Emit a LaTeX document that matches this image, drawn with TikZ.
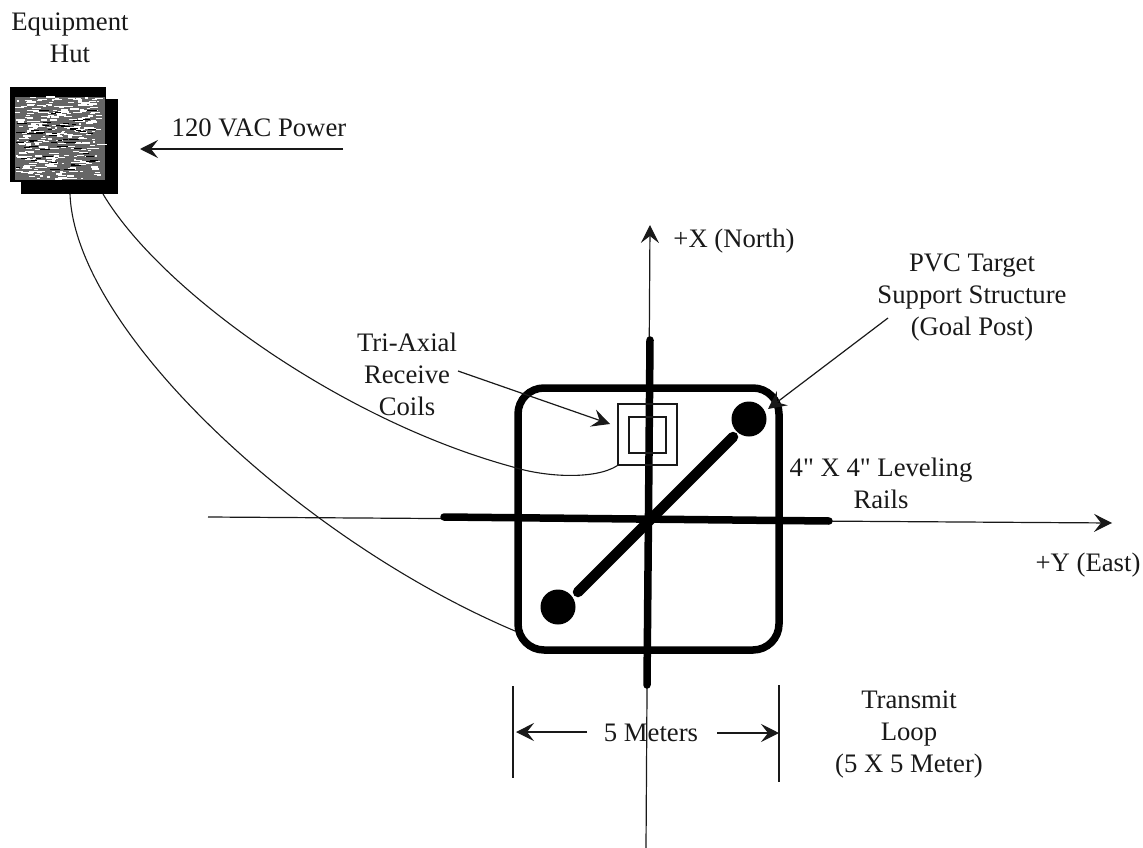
\documentclass[tikz,border=0pt]{standalone}
\usepackage{fontspec}
\setmainfont{Liberation Serif}
\newfontfamily\rawserif{Liberation Serif}
\usetikzlibrary{arrows.meta}
\tikzset{
 thin line/.style={line width=1.1pt,black!90},
 arrowline/.style={line width=1.2pt,black!90,-{Stealth[length=18pt,width=18pt,inset=7pt]}},
 heavy/.style={line width=7.5pt,black,line cap=round},
 lbl/.style={font=\rawserif\fontsize{26.7}{32}\selectfont,align=center,inner sep=0pt,text=black!90},
 post/.style={circle,fill=black,minimum size=35pt,inner sep=0pt},
}
\begin{document}
\begin{tikzpicture}[x=1pt,y=-1pt]
\useasboundingbox (0,0) rectangle (1143,848);
% hut
\fill[black] (21,99) rectangle (118,194);
\fill[black] (10,87) rectangle (106,182);
\fill[black!60] (15,97) rectangle (105,180);
\pgfmathsetseed{7}
\foreach \i in {1,...,300}{
  \pgfmathsetmacro{\xa}{15+rnd*82}
  \pgfmathsetmacro{\ya}{97+rnd*82}
  \pgfmathsetmacro{\ln}{2+rnd*8}
  \draw[white,line width=1.3pt] (\xa,\ya) -- ++(\ln,0);
}
\foreach \i in {1,...,60}{
  \pgfmathsetmacro{\xa}{16+rnd*80}
  \pgfmathsetmacro{\ya}{110+rnd*60}
  \pgfmathsetmacro{\ln}{3+rnd*8}
  \draw[black,line width=1pt] (\xa,\ya) -- ++(\ln,0);
}
\node[lbl] (hutlabel) at (70,38) {Equipment\\Hut};
\coordinate (hutA) at (70,194);
\coordinate (hutB) at (103,194);
% axes
\coordinate (xtop) at (650,225);
\coordinate (xbot) at (646,848);
\coordinate (yleft) at (208,517);
\coordinate (yright) at (1112,523);
\draw[arrowline] (xbot) -- (xtop);
\draw[arrowline] (yleft) -- (yright);
% loop
\draw[line width=7.5pt,rounded corners=26pt] (518,388) rectangle (779,650);
\draw[heavy] (650,340) -- (647,685);
\draw[heavy] (444,517) -- (829,521);
\draw[line width=10.5pt,line cap=round] (578,592) -- (733,437);
\node[post] (postA) at (749,419) {};
\node[post] (postB) at (558,607) {};
% coils
\node[draw,thin line,minimum width=59pt,minimum height=61pt,inner sep=0pt] (coilo) at (647.5,434.5) {};
\node[draw,thin line,minimum width=37pt,minimum height=36pt,inner sep=0pt] (coili) at (647.5,435) {};
% cables
\draw[thin line] (hutB) .. controls (160,290) and (340,420) .. (513,467) .. controls (545,477) and (595,480) .. (coilo.south west);
\draw[thin line] (hutA) .. controls (75,330) and (300,540) .. (515,631);
% arrows
\coordinate (powerS) at (343,149);
\coordinate (powerE) at (140,149);
\draw[arrowline] (powerS) -- (powerE);
\coordinate (triS) at (458,371);
\draw[arrowline] (triS) -- (610,424);
\coordinate (pvcS) at (888,318);
\draw[arrowline] (pvcS) -- (768,409);
\coordinate (mL) at (587,732);
\coordinate (mLe) at (516,732);
\coordinate (mR) at (717,733);
\coordinate (mRe) at (779,733);
\draw[arrowline] (mL) -- (mLe);
\draw[arrowline] (mR) -- (mRe);
\coordinate (t1a) at (513,686);\coordinate (t1b) at (513,778);
\coordinate (t2a) at (779,685);\coordinate (t2b) at (779,782);
\draw[thin line] (t1a) -- (t1b);
\draw[thin line] (t2a) -- (t2b);
% labels
\node[lbl] (power) at (259,128) {120 VAC Power};
\node[lbl] (xl) at (734,241) {+X (North)};
\node[lbl] (yl) at (1088,565) {+Y (East)};
\node[lbl] (pvc) at (972,298) {PVC Target\\Support Structure\\(Goal Post)};
\node[lbl] (tri) at (407,374) {Tri-Axial\\Receive\\Coils};
\node[lbl] (rails) at (881,483) {4" X 4" Leveling\\Rails};
\node[lbl] (meters) at (651,733) {5 Meters};
\node[lbl] (tx) at (909,734) {Transmit\\Loop\\(5 X 5 Meter)};
\end{tikzpicture}
\end{document}
